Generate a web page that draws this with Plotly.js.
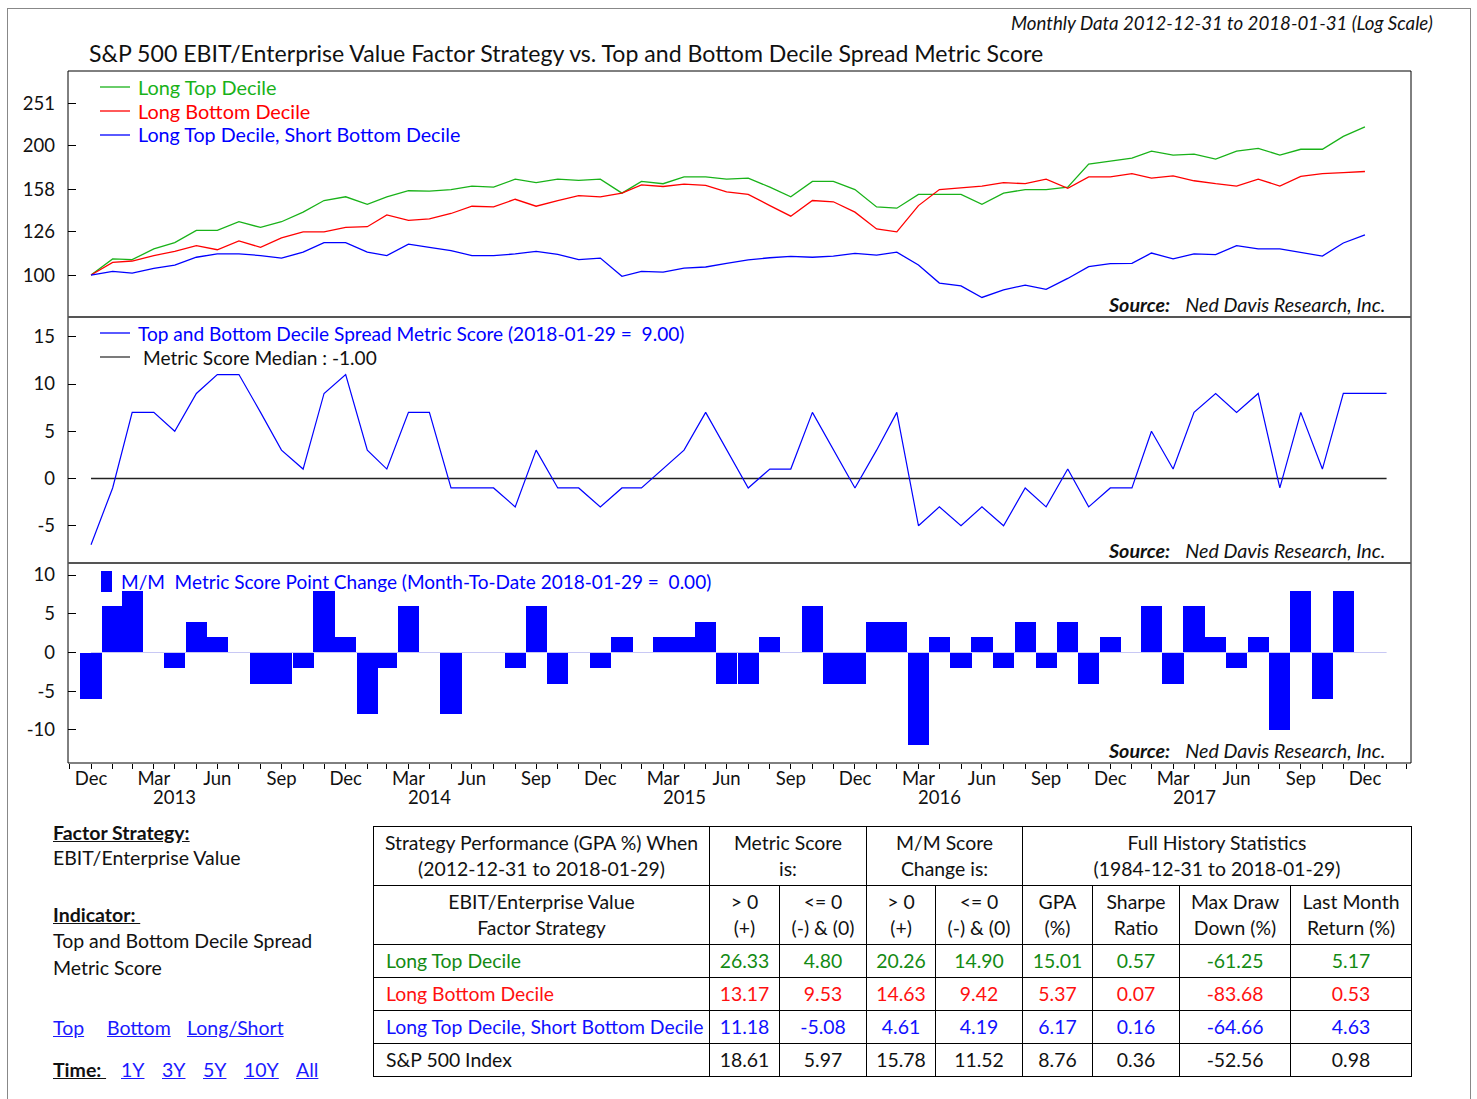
<!DOCTYPE html>
<html>
<head>
<meta charset="utf-8">
<script src="https://cdn.plot.ly/plotly-3.0.1.min.js"></script>
<style>
  body { margin: 0; background: #fff; }
  #wrap { position: relative; width: 1477px; height: 1099px; overflow: hidden; font-family: Lato, "Open Sans", sans-serif; color: #111; }
  #chart { position: absolute; left: 0; top: 0; width: 1477px; height: 1099px; }
  #frame { position: absolute; left: 7px; top: 8px; width: 1462px; height: 1100px; border: 1px solid #888; pointer-events: none; }
  .info { position: absolute; font-size: 19.5px; line-height: 24px; white-space: nowrap; }
  .lnk { color: #1a1aff; text-decoration: underline; }
  #stats { position: absolute; left: 373px; top: 826px; border-collapse: collapse; font-size: 19.4px; table-layout: fixed; }
  #stats td { border: 1px solid #000; text-align: center; padding: 0; line-height: 26px; white-space: nowrap; overflow: hidden; }
  #stats tr.h1 td, #stats tr.h2 td { height: 58px; }
  #stats tr.d td { height: 32px; }
  #stats td.nm { text-align: left; padding-left: 12px; }
</style>
</head>
<body>
<div id="wrap">
  <div id="chart"></div>
  <div id="frame"></div>
  <div id="left"></div>
  <table id="stats"></table>
</div>
<script>
// ---------------- DATA ----------------
const longTopDecile = [100,109,108.6,115,119,127,127,133,129,133,140,149,152,146,152,157,156.6,158,161,160,167,164,167,166,167,155,165,163,169,169,167,168,
  160,152,165,165,158,144,143,154,154,154,146,155,158,158,160,181,184,187,194,190,191,186,194,197,190,196,196,210,221];
const longBottomDecile = [100,107,107.8,111,113.5,117,114.5,120,116,122,126,126,129,129.5,138,134,135,139,144.5,144,150,144.5,149,153,152,155,162,160.6,162.6,161.5,156,154,
  145,137,149,148,140,128,126,145,158,159.5,161,164,163,167,159,169,169,172,168,170,165.6,163,161,167,161,169.5,172,173,174];
const longShort = [100,102,101,103.6,105.5,110,112,112,111,109.5,113,119,119,113,111,118,116,114,111,110.9,112,113.5,111.7,108.6,109.5,99.3,102,101.6,103.8,104.4,106.5,108.5,
  109.7,110.5,110,110.7,112.3,111.3,113,105.5,95.8,94.4,88.7,92.4,94.8,92.6,98.2,104.6,106.3,106.5,112.5,109,112,111.5,117,115,115,113,110.7,118.7,124];
const metricScore = [-7,-1,7,7,5,9,11,11,7,3,1,9,11,3,1,7,7,-1,-1,-1,-3,3,-1,-1,-3,-1,-1,1,3,7,3,-1,1,1,7,3,-1,3,7,-5,-3,-5,-3,-5,-1,-3,1,-3,-1,-1,5,1,7,9,7,9,-1,7,1,9,9,9];
const metricMedianLine = 0;
const scoreChange = [-6,6,8,0,-2,4,2,0,-4,-4,-2,8,2,-8,-2,6,0,-8,0,0,-2,6,-4,0,-2,2,0,2,2,4,-4,-4,2,0,6,-4,-4,4,4,-12,2,-2,2,-2,4,-2,4,-4,2,0,6,-4,6,2,-2,2,-10,8,-6,8,0,0];
const firstMonth = [2012, 12];   // first data month (month-end dates)
const topTicks = [100, 126, 158, 200, 251];
const midTicks = [-5, 0, 5, 10, 15];
const botTicks = [-10, -5, 0, 5, 10];
const quarterLabels = {3: 'Mar', 6: 'Jun', 9: 'Sep', 12: 'Dec'};
const yearLabels = ['2013', '2014', '2015', '2016', '2017'];

const tableHead1 = ['Strategy Performance (GPA %) When<br>(2012-12-31 to 2018-01-29)', 'Metric Score<br>is:', 'M/M Score<br>Change is:', 'Full History Statistics<br>(1984-12-31 to 2018-01-29)'];
const tableHead1Span = [1, 2, 2, 4];
const tableHead2 = ['EBIT/Enterprise Value<br>Factor Strategy', '&gt; 0<br>(+)', '&lt;= 0<br>(-) &amp; (0)', '&gt; 0<br>(+)', '&lt;= 0<br>(-) &amp; (0)', 'GPA<br>(%)', 'Sharpe<br>Ratio', 'Max Draw<br>Down (%)', 'Last Month<br>Return (%)'];
const rowNames = ['Long Top Decile', 'Long Bottom Decile', 'Long Top Decile, Short Bottom Decile', 'S&amp;P 500 Index'];
const rowColors = ['#138a13', '#ff1010', '#1010ff', '#111'];
const statsLongTop = ['26.33', '4.80', '20.26', '14.90', '15.01', '0.57', '-61.25', '5.17'];
const statsLongBottom = ['13.17', '9.53', '14.63', '9.42', '5.37', '0.07', '-83.68', '0.53'];
const statsLongShort = ['11.18', '-5.08', '4.61', '4.19', '6.17', '0.16', '-64.66', '4.63'];
const statsSP500 = ['18.61', '5.97', '15.78', '11.52', '8.76', '0.36', '-52.56', '0.98'];
const colWidths = [336, 70, 87, 69, 87, 70, 87, 111, 121];

// ---------------- DATES ----------------
function monthEnd(k) { // k months after firstMonth
  const d = new Date(Date.UTC(firstMonth[0], firstMonth[1] - 1 + k + 1, 0));
  return d.toISOString().slice(0, 10);
}
const scoreDates = metricScore.map((_, k) => monthEnd(k));
const perfDates = longTopDecile.map((_, k) => monthEnd(k));
const tickDates = [], tickText = [];
for (let k = -1; k <= scoreDates.length; k++) {
  const ds = monthEnd(k);
  tickDates.push(ds);
  tickText.push(quarterLabels[parseInt(ds.slice(5, 7), 10)] || '');
}

// ---------------- GEOMETRY HELPERS ----------------
const L = 68, R = 1411, T = 71, B = 763;
const px = x => (x - L) / (R - L);
const py = y => (B - y) / (B - T);
const FONT = 'Lato, "Open Sans", sans-serif';
const GREEN = '#19b219', RED = '#ff0000', BLUE = '#0000ff';

// ---------------- TRACES ----------------
const traces = [
  {x: perfDates, y: longTopDecile, type: 'scatter', mode: 'lines', line: {color: GREEN, width: 1.3}, xaxis: 'x', yaxis: 'y', hoverinfo: 'skip'},
  {x: perfDates, y: longBottomDecile, type: 'scatter', mode: 'lines', line: {color: RED, width: 1.3}, xaxis: 'x', yaxis: 'y', hoverinfo: 'skip'},
  {x: perfDates, y: longShort, type: 'scatter', mode: 'lines', line: {color: BLUE, width: 1.3}, xaxis: 'x', yaxis: 'y', hoverinfo: 'skip'},
  {x: scoreDates, y: scoreDates.map(() => metricMedianLine), type: 'scatter', mode: 'lines', line: {color: '#222', width: 1.3}, xaxis: 'x', yaxis: 'y2', hoverinfo: 'skip'},
  {x: scoreDates, y: metricScore, type: 'scatter', mode: 'lines', line: {color: BLUE, width: 1.2}, xaxis: 'x', yaxis: 'y2', hoverinfo: 'skip'},
  {x: scoreDates, y: scoreDates.map(() => 0), type: 'scatter', mode: 'lines', line: {color: '#c8c8f4', width: 1}, xaxis: 'x', yaxis: 'y3', hoverinfo: 'skip'},
  {x: scoreDates, y: scoreChange, type: 'bar', marker: {color: BLUE, line: {width: 0}}, width: 30.4 * 86400000, xaxis: 'x', yaxis: 'y3', hoverinfo: 'skip'}
];

const tickFont = {family: FONT, size: 18.5, color: '#111'};
function yax(extra) {
  return Object.assign({
    showgrid: false, zeroline: false, showline: false, ticks: 'inside', ticklen: 8, tickcolor: '#000',
    tickfont: tickFont, ticklabelstandoff: 12, fixedrange: true, anchor: 'x'
  }, extra);
}
const topRange = [Math.log10(79.9), Math.log10(297.9)];
const midRange = [-8.94, 17.09];
const botRange = [-14.26, 11.55];
const dTop = [py(317), 1], dMid = [py(563), py(317)], dBot = [0, py(563)];
const lbl = v => String(v);

const layout = {
  width: 1477, height: 1099,
  margin: {l: L, r: 1477 - R, t: T, b: 1099 - B, pad: 0},
  paper_bgcolor: '#fff', plot_bgcolor: '#fff',
  showlegend: false, bargap: 0,
  font: {family: FONT, color: '#111'},
  title: {text: 'S&P 500 EBIT/Enterprise Value Factor Strategy vs. Top and Bottom Decile Spread Metric Score',
          font: {family: FONT, size: 23.1, color: '#111'}, xref: 'container', yref: 'container',
          x: 89 / 1477, xanchor: 'left', y: 1 - 54 / 1099, yanchor: 'middle'},
  xaxis: {type: 'date', range: ['2012-11-28', '2018-03-07'], anchor: 'y3', showgrid: false, zeroline: false, showline: false,
          tickmode: 'array', tickvals: tickDates, ticktext: tickText, ticks: 'outside', ticklen: 5, tickcolor: '#000',
          tickfont: tickFont, ticklabelstandoff: -6, fixedrange: true},
  yaxis: yax({type: 'log', domain: dTop, range: topRange, tickmode: 'array', tickvals: topTicks, ticktext: topTicks.map(lbl)}),
  yaxis2: yax({domain: dMid, range: midRange, tickmode: 'array', tickvals: midTicks, ticktext: midTicks.map(lbl)}),
  yaxis3: yax({domain: dBot, range: botRange, tickmode: 'array', tickvals: botTicks, ticktext: botTicks.map(lbl)}),
  yaxis4: yax({type: 'log', overlaying: 'y', side: 'right', range: topRange, tickmode: 'array', tickvals: topTicks, ticktext: topTicks.map(lbl)}),
  yaxis5: yax({overlaying: 'y2', side: 'right', range: midRange, tickmode: 'array', tickvals: midTicks, ticktext: midTicks.map(lbl)}),
  yaxis6: yax({overlaying: 'y3', side: 'right', range: botRange, tickmode: 'array', tickvals: botTicks, ticktext: botTicks.map(lbl)}),
  shapes: [
    {type: 'rect', xref: 'paper', yref: 'paper', x0: 0, x1: 1, y0: 0, y1: 1, line: {color: '#000', width: 1}},
    {type: 'line', xref: 'paper', yref: 'paper', x0: 0, x1: 1, y0: py(317), y1: py(317), line: {color: '#555', width: 2}},
    {type: 'line', xref: 'paper', yref: 'paper', x0: 0, x1: 1, y0: py(563), y1: py(563), line: {color: '#555', width: 2}},
    // legend glyphs
    {type: 'line', xref: 'paper', yref: 'paper', x0: px(100), x1: px(130), y0: py(87), y1: py(87), line: {color: GREEN, width: 1.3}},
    {type: 'line', xref: 'paper', yref: 'paper', x0: px(100), x1: px(130), y0: py(111), y1: py(111), line: {color: RED, width: 1.3}},
    {type: 'line', xref: 'paper', yref: 'paper', x0: px(100), x1: px(130), y0: py(135), y1: py(135), line: {color: BLUE, width: 1.3}},
    {type: 'line', xref: 'paper', yref: 'paper', x0: px(100), x1: px(130), y0: py(333), y1: py(333), line: {color: BLUE, width: 1.3}},
    {type: 'line', xref: 'paper', yref: 'paper', x0: px(100), x1: px(130), y0: py(357), y1: py(357), line: {color: '#333', width: 1.3}},
    {type: 'rect', xref: 'paper', yref: 'paper', x0: px(101), x1: px(112), y0: py(592), y1: py(571), fillcolor: BLUE, line: {width: 0}}
  ],
  annotations: []
};

function ann(text, x, y, anchor, font) {
  layout.annotations.push({text: text, xref: 'paper', yref: 'paper', x: px(x), y: py(y), xanchor: anchor, yanchor: 'middle',
    showarrow: false, font: Object.assign({family: FONT, size: 18, color: '#111'}, font || {})});
}
const NB = '\u00a0';
ann('<i>Monthly Data 2012-12-31 to 2018-01-31 (Log Scale)</i>', 1435, 23, 'right', {size: 18.7});
ann('Long Top Decile', 136, 87, 'left', {color: GREEN, size: 19.9});
ann('Long Bottom Decile', 136, 111, 'left', {color: RED, size: 19.9});
ann('Long Top Decile, Short Bottom Decile', 136, 135, 'left', {color: BLUE, size: 19.7});
ann('Top and Bottom Decile Spread Metric Score (2018-01-29 =' + NB + NB + '9.00)', 136, 333, 'left', {color: BLUE, size: 19.1});
ann('Metric Score Median : -1.00', 141, 357, 'left', {color: '#111', size: 19.1});
ann('M/M' + NB + NB + 'Metric Score Point Change (Month-To-Date 2018-01-29 =' + NB + NB + '0.00)', 119, 581, 'left', {color: BLUE, size: 19});
[304, 550, 750].forEach(y => ann('<b><i>Source:</i></b>' + NB + NB + NB + '<i>Ned Davis Research, Inc.</i>', 1387, y, 'right', {size: 19.7}));
yearLabels.forEach(yr => layout.annotations.push({text: yr, xref: 'x', yref: 'paper', x: yr + '-04-30', y: py(797), xanchor: 'center', yanchor: 'middle',
  showarrow: false, font: {family: FONT, size: 18.5, color: '#111'}}));

Plotly.newPlot('chart', traces, layout, {displayModeBar: false, staticPlot: true});

// ---------------- LEFT INFO TEXT ----------------
const leftItems = [
  ['<b><u>Factor Strategy:</u></b>', 53, 833],
  ['EBIT/Enterprise Value', 53, 858],
  ['<b><u>Indicator:&nbsp;</u></b>', 53, 915],
  ['Top and Bottom Decile Spread', 53, 941],
  ['Metric Score', 53, 968],
  ['<span class="lnk">Top</span>', 53, 1028],
  ['<span class="lnk">Bottom</span>', 107, 1028],
  ['<span class="lnk">Long/Short</span>', 187, 1028],
  ['<b><u>Time:&nbsp;</u></b>', 53, 1070],
  ['<span class="lnk">1Y</span>', 121, 1070],
  ['<span class="lnk">3Y</span>', 162, 1070],
  ['<span class="lnk">5Y</span>', 203, 1070],
  ['<span class="lnk">10Y</span>', 244, 1070],
  ['<span class="lnk">All</span>', 296, 1070]
];
const left = document.getElementById('left');
leftItems.forEach(([t, x, y]) => {
  const d = document.createElement('div');
  d.className = 'info';
  d.style.left = x + 'px';
  d.style.top = (y - 12) + 'px';
  d.innerHTML = t;
  left.appendChild(d);
});

// ---------------- TABLE ----------------
const tbl = document.getElementById('stats');
let html = '<colgroup>' + colWidths.map(w => '<col style="width:' + w + 'px">').join('') + '</colgroup>';
html += '<tr class="h1">' + tableHead1.map((t, i) => '<td colspan="' + tableHead1Span[i] + '">' + t + '</td>').join('') + '</tr>';
html += '<tr class="h2">' + tableHead2.map(t => '<td>' + t + '</td>').join('') + '</tr>';
[statsLongTop, statsLongBottom, statsLongShort, statsSP500].forEach((row, r) => {
  html += '<tr class="d" style="color:' + rowColors[r] + '"><td class="nm">' + rowNames[r] + '</td>' + row.map(v => '<td>' + v + '</td>').join('') + '</tr>';
});
tbl.innerHTML = html;
tbl.style.width = colWidths.reduce((a, b) => a + b, 0) + 'px';
</script>
</body>
</html>
